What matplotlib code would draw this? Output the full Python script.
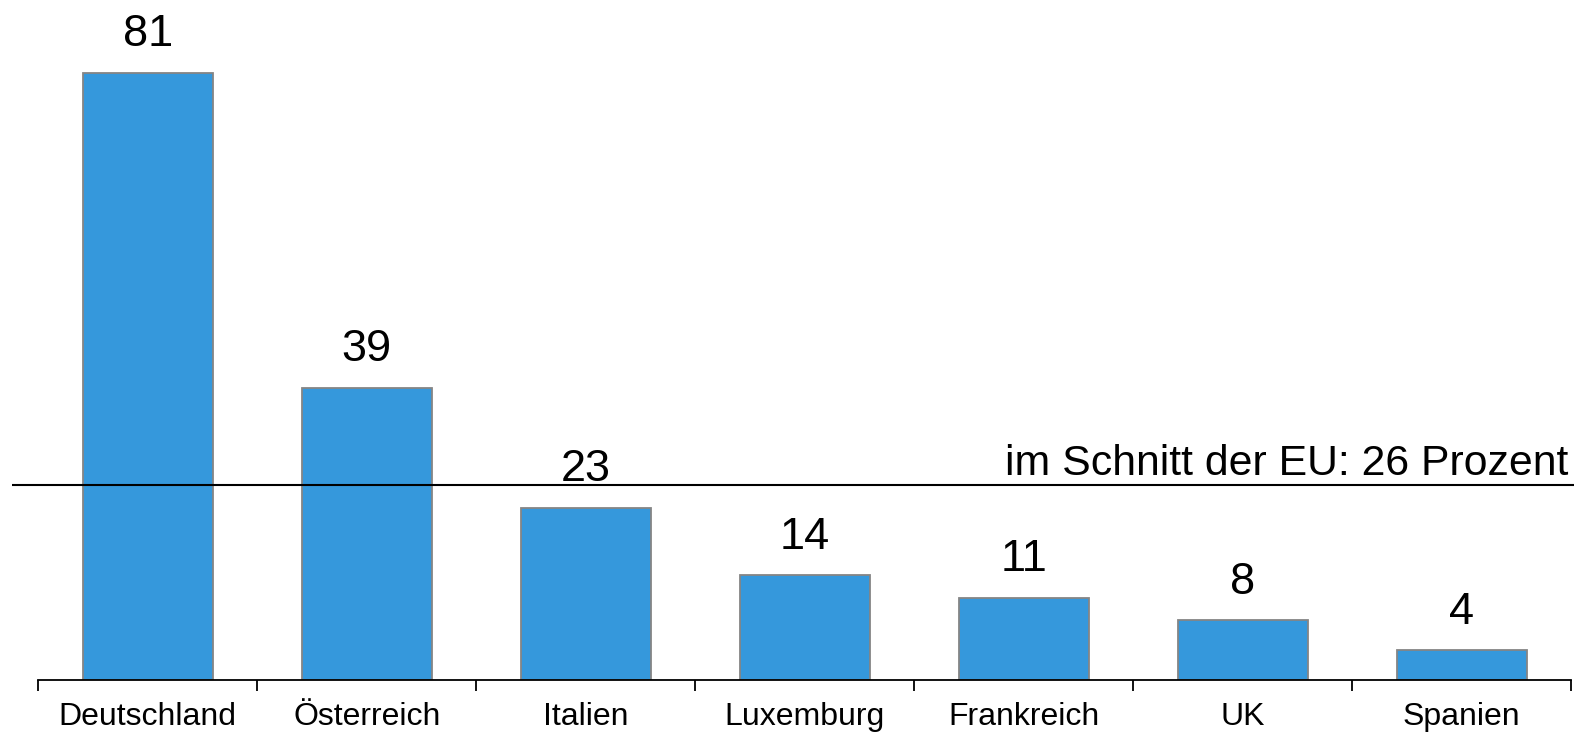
import matplotlib.pyplot as plt
import numpy as np

plt.rcParams['font.family'] = ['Liberation Sans', 'DejaVu Sans']

laender = ['Deutschland', 'Österreich', 'Italien', 'Luxemburg', 'Frankreich', 'UK', 'Spanien']
werte = [81, 39, 23, 14, 11, 8, 4]
eu_schnitt = 26

fig = plt.figure(figsize=(15.78, 7.33), dpi=100)
ax = fig.add_axes([12 / 1578, 53 / 733, 1561.5 / 1578, 680 / 733])

x = np.arange(len(laender))
ax.bar(x, werte, width=0.595, color='#3598dc', edgecolor='#858585', linewidth=1.3)

for xi, v in zip(x, werte):
    ax.annotate(str(v), (xi, v), xytext=(0, 19), textcoords='offset points',
                ha='center', va='baseline', fontsize=32.5)

ax.axhline(eu_schnitt, color='black', linewidth=1.5)
ax.annotate('im Schnitt der EU: 26 Prozent', (6.5, eu_schnitt), xytext=(-2, 7),
            textcoords='offset points', ha='right', va='baseline', fontsize=30.8)

ax.set_xlim(-0.62, 6.51)
ax.set_ylim(0, 90.7)

for s in ['top', 'left', 'right']:
    ax.spines[s].set_visible(False)
ax.spines['bottom'].set_bounds(-0.5, 6.5)
ax.spines['bottom'].set_linewidth(1.3)
ax.set_yticks([])
ax.set_xticks(x)
ax.set_xticklabels(laender, fontsize=23)
ax.tick_params(axis='x', which='major', length=0, pad=16)
ax.set_xticks(np.arange(-0.5, 7, 1), minor=True)
ax.tick_params(axis='x', which='minor', length=8, width=1.3)

fig.savefig('out.png', dpi=100)
